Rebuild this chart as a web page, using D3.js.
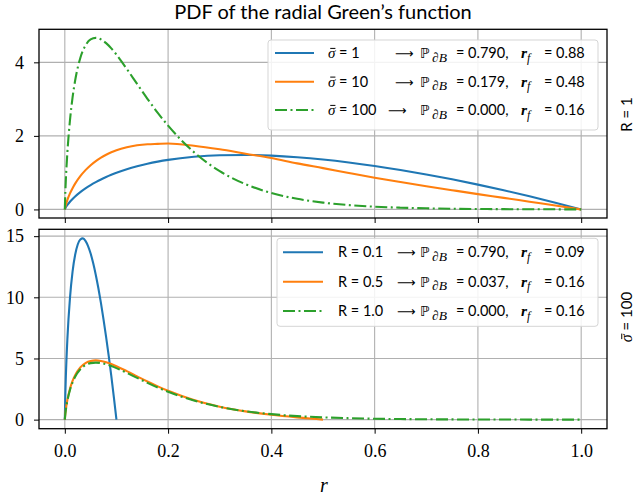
<!DOCTYPE html>
<html><head><meta charset="utf-8">
<script src="https://cdn.jsdelivr.net/npm/d3@7"></script>
<style>body{margin:0;background:#fff}</style>
</head><body><svg id="c" width="640" height="500"></svg>
<script>
const title = "PDF of the radial Green’s function";
const xTicks = [0, 0.2, 0.4, 0.6, 0.8, 1.0];
const topYTicks = [0, 2, 4];
const botYTicks = [0, 5, 10, 15];
const rGrid = [0, 0.001, 0.002, 0.005, 0.01, 0.015, 0.02, 0.03, 0.04, 0.05, 0.06, 0.07, 0.08, 0.09, 0.10, 0.12, 0.14, 0.16, 0.18, 0.20, 0.25, 0.30, 0.35, 0.40, 0.45, 0.50, 0.55, 0.60, 0.65, 0.70, 0.75, 0.80, 0.85, 0.90, 0.95, 1.00];
const topBlue = [0, 0.032, 0.057, 0.121, 0.209, 0.284, 0.352, 0.470, 0.571, 0.662, 0.742, 0.815, 0.881, 0.941, 0.996, 1.093, 1.174, 1.243, 1.300, 1.348, 1.432, 1.474, 1.482, 1.463, 1.420, 1.358, 1.278, 1.183, 1.074, 0.952, 0.819, 0.675, 0.521, 0.357, 0.183, 0];
const topOrange = [0, 0.072, 0.126, 0.260, 0.435, 0.578, 0.701, 0.905, 1.068, 1.203, 1.315, 1.409, 1.487, 1.553, 1.609, 1.690, 1.743, 1.773, 1.783, 1.791, 1.732, 1.635, 1.515, 1.398, 1.252, 1.123, 0.991, 0.863, 0.745, 0.632, 0.523, 0.416, 0.315, 0.211, 0.108, 0];
const topGreen = [0, 0.472, 0.806, 1.557, 2.427, 3.045, 3.505, 4.118, 4.458, 4.622, 4.665, 4.624, 4.522, 4.380, 4.210, 3.822, 3.412, 3.008, 2.626, 2.278, 1.558, 1.041, 0.686, 0.448, 0.288, 0.185, 0.118, 0.074, 0.047, 0.030, 0.018, 0.012, 0.007, 0.0045, 0.0027, 0];
const rBotBlue = [0, 0.001, 0.002, 0.005, 0.01, 0.015, 0.02, 0.025, 0.03, 0.035, 0.04, 0.045, 0.05, 0.055, 0.06, 0.065, 0.07, 0.075, 0.08, 0.085, 0.09, 0.095, 0.1];
const botBlue = [0, 2.09, 3.52, 6.62, 9.96, 12.10, 13.48, 14.32, 14.73, 14.82, 14.62, 14.19, 13.58, 12.78, 11.83, 10.74, 9.52, 8.18, 6.75, 5.21, 3.57, 1.83, 0];
const rBotOrange = [0, 0.001, 0.002, 0.005, 0.01, 0.015, 0.02, 0.03, 0.04, 0.05, 0.06, 0.07, 0.08, 0.09, 0.10, 0.12, 0.14, 0.16, 0.18, 0.20, 0.25, 0.30, 0.35, 0.40, 0.45, 0.475, 0.50];
const botOrange = [0, 0.49, 0.837, 1.616, 2.519, 3.161, 3.638, 4.274, 4.627, 4.797, 4.842, 4.799, 4.694, 4.546, 4.370, 3.967, 3.541, 3.118, 2.721, 2.358, 1.606, 1.060, 0.676, 0.401, 0.188, 0.094, 0];
const botGreen = topGreen;
const topSigma = ["1", "10", "100"];
const topP = ["0.790", "0.179", "0.000"];
const topRf = ["0.88", "0.48", "0.16"];
const botR = ["0.1", "0.5", "1.0"];
const botP = ["0.790", "0.037", "0.000"];
const botRf = ["0.09", "0.16", "0.16"];
const colors = ["#1f77b4", "#ff7f0e", "#2ca02c"];
const topLabel = "R = 1";
const botLabelValue = "100";
const xLabel = "r";

const sans = "Lato, 'DejaVu Sans', sans-serif";
const serif = "'Liberation Serif', 'DejaVu Serif', serif";
const svg = d3.select("#c");
const L = 39, Rr = 607;
const x = d3.scaleLinear().domain([-0.05, 1.05]).range([L, Rr]);

function padDomain(arrs) {
  const all = arrs.flat();
  const mn = d3.min(all), mx = d3.max(all), p = (mx - mn) * 0.05;
  return [mn - p, mx + p];
}

function panel(T, B, series, yTicks, showX) {
  const y = d3.scaleLinear().domain(padDomain(series.map(s => s.v))).range([B, T]);
  const g = svg.append("g");
  g.append("g").selectAll("line").data(xTicks).join("line")
    .attr("x1", d => x(d)).attr("x2", d => x(d)).attr("y1", T).attr("y2", B)
    .attr("stroke", "#b0b0b0").attr("stroke-width", 1.1);
  g.append("g").selectAll("line").data(yTicks).join("line")
    .attr("y1", d => y(d)).attr("y2", d => y(d)).attr("x1", L).attr("x2", Rr)
    .attr("stroke", "#b0b0b0").attr("stroke-width", 1.1);
  const line = d3.line().x(d => x(d[0])).y(d => y(d[1])).curve(d3.curveMonotoneX);
  series.forEach((s, i) => {
    g.append("path").datum(d3.zip(s.r, s.v)).attr("d", line)
      .attr("fill", "none").attr("stroke", colors[i]).attr("stroke-width", 2.1)
      .attr("stroke-dasharray", i === 2 ? "12,3.5,2,3.5" : null);
  });
  g.append("rect").attr("x", L).attr("y", T).attr("width", Rr - L).attr("height", B - T)
    .attr("fill", "none").attr("stroke", "#000").attr("stroke-width", 1.3);
  const ya = g.append("g").attr("transform", `translate(${L},0)`)
    .call(d3.axisLeft(y).tickValues(yTicks).tickSize(5).tickPadding(10).tickFormat(d3.format("d")));
  ya.select(".domain").remove();
  ya.selectAll("text").attr("font-family", serif).attr("font-size", 18).attr("fill", "#000");
  const xa = g.append("g").attr("transform", `translate(0,${B})`)
    .call(d3.axisBottom(x).tickValues(xTicks).tickSize(5).tickPadding(11).tickFormat(showX ? d3.format(".1f") : () => ""));
  xa.select(".domain").remove();
  xa.selectAll("text").attr("font-family", serif).attr("font-size", 18).attr("fill", "#000");
  return y;
}

panel(29.3, 218, [
  {r: rGrid, v: topBlue}, {r: rGrid, v: topOrange}, {r: rGrid, v: topGreen}
], topYTicks, false);
panel(229.3, 428.7, [
  {r: rBotBlue, v: botBlue}, {r: rBotOrange, v: botOrange}, {r: rGrid, v: botGreen}
], botYTicks, true);

// σ with a drawn bar (macron) above it
function sigmaText(parent, xPos, yPos, size, rest, anchor) {
  const t = parent.append("text").attr("x", xPos).attr("y", yPos)
    .attr("font-family", sans).attr("font-size", 14.5).attr("text-anchor", anchor || "start");
  t.append("tspan").attr("font-family", serif).attr("font-style", "italic").attr("font-size", size).text("σ");
  t.append("tspan").text(rest);
  const ext = t.node().getExtentOfChar(0);
  parent.append("line")
    .attr("x1", ext.x + ext.width * 0.3).attr("x2", ext.x + ext.width * 1.0)
    .attr("y1", yPos - size * 0.64).attr("y2", yPos - size * 0.64)
    .attr("stroke", "#000").attr("stroke-width", 1);
  return t;
}

function legend(box, rows, lx0, lx1, labelX, arrowXs) {
  const g = svg.append("g");
  g.append("rect").attr("x", box.x).attr("y", box.y).attr("width", box.w).attr("height", box.h)
    .attr("rx", 3).attr("fill", "#fff").attr("fill-opacity", 0.85)
    .attr("stroke", "#d5d5d5").attr("stroke-width", 1);
  rows.forEach((row, i) => {
    const ly = box.rowY[i];
    const by = ly + 5;
    g.append("line").attr("x1", lx0).attr("x2", lx1).attr("y1", ly).attr("y2", ly)
      .attr("stroke", colors[i]).attr("stroke-width", 2.1)
      .attr("stroke-dasharray", i === 2 ? "12,3.5,2,3.5" : null);
    if (row.sigma) {
      sigmaText(g, labelX, by, 15, " = " + row.sigma);
    } else {
      g.append("text").attr("x", labelX).attr("y", by).attr("font-family", sans).attr("font-size", 14.5).text("R = " + row.R);
    }
    g.append("text").attr("x", arrowXs[i]).attr("y", by).attr("font-family", "'DejaVu Sans'").attr("font-size", 13).text("⟶");
    g.append("text").attr("x", 420).attr("y", by).attr("font-family", "'DejaVu Sans'").attr("font-size", 14).text("ℙ");
    g.append("text").attr("x", 432).attr("y", by + 3.5).attr("font-family", serif).attr("font-style", "italic").attr("font-size", 13.5).text("∂B");
    g.append("text").attr("x", 456).attr("y", by).attr("font-family", sans).attr("font-size", 14.5).text("= " + row.P + ",");
    g.append("text").attr("x", 521).attr("y", by).attr("font-family", serif).attr("font-style", "italic").attr("font-weight", "bold").attr("font-size", 15.5).text("r");
    g.append("text").attr("x", 527).attr("y", by + 3.5).attr("font-family", serif).attr("font-style", "italic").attr("font-size", 12).text("f");
    g.append("text").attr("x", 544).attr("y", by).attr("font-family", sans).attr("font-size", 14.5).text("= " + row.rf);
  });
}

legend({x: 268, y: 40, w: 330, h: 90, rowY: [53, 81.7, 110]},
  topSigma.map((s, i) => ({sigma: s, P: topP[i], rf: topRf[i]})), 275, 314, 328, [395, 395, 388]);
legend({x: 277, y: 238.3, w: 321, h: 88, rowY: [252.3, 281.7, 311]},
  botR.map((s, i) => ({R: s, P: botP[i], rf: botRf[i]})), 283, 323, 338, [397, 397, 397]);

svg.append("text").attr("x", 323).attr("y", 19).attr("text-anchor", "middle")
  .attr("font-family", sans).attr("font-size", 20).text(title);
svg.append("text").attr("x", 324).attr("y", 492).attr("text-anchor", "middle")
  .attr("font-family", serif).attr("font-style", "italic").attr("font-size", 20).text(xLabel);
svg.append("text").attr("transform", "translate(632,114.5) rotate(-90)").attr("text-anchor", "middle")
  .attr("font-family", sans).attr("font-size", 15).text(topLabel);
const blg = svg.append("g").attr("transform", "translate(632,317) rotate(-90)");
sigmaText(blg, 0, 0, 16, " = " + botLabelValue, "middle").attr("font-size", 15);
</script></body></html>
